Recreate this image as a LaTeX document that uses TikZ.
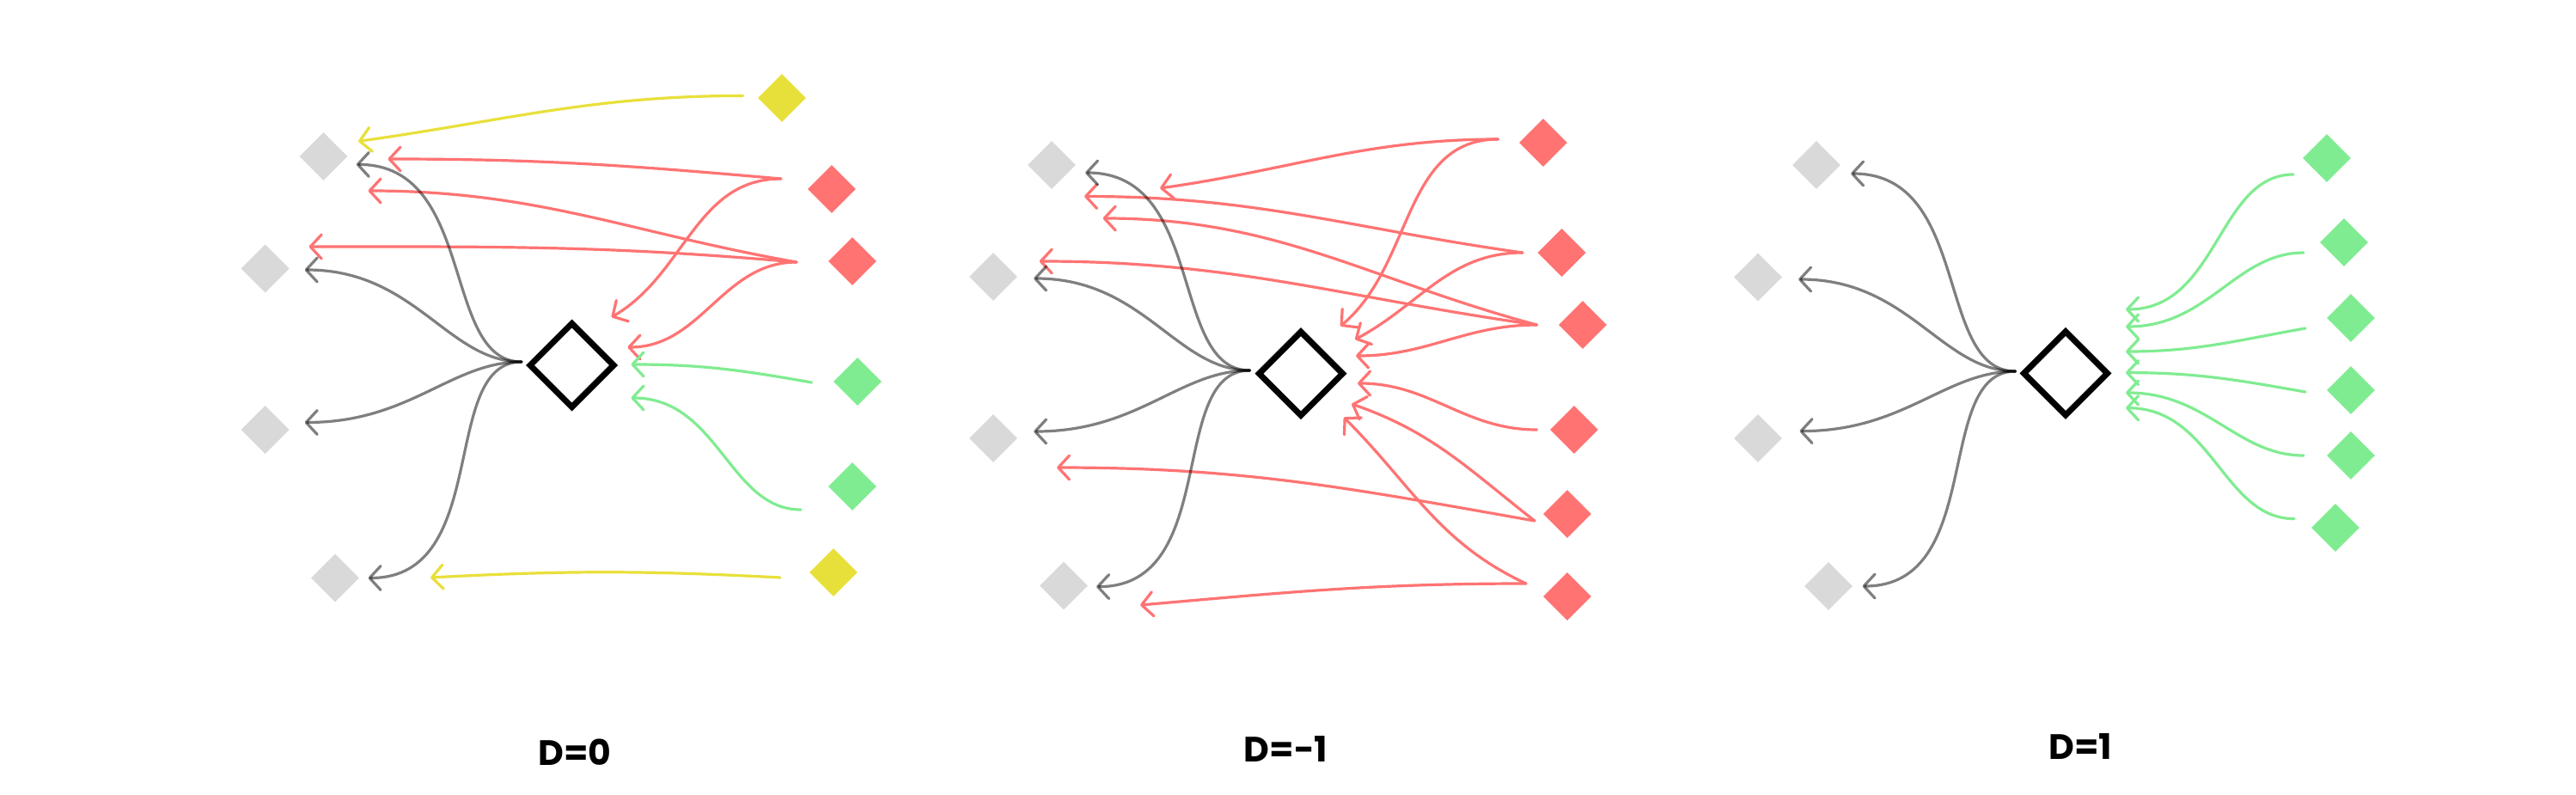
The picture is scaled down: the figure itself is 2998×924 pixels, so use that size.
\documentclass[tikz,border=0pt]{standalone}
\usepackage{fontspec}
\setmainfont{Poppins}
\usetikzlibrary{arrows.meta,shapes.geometric}
\definecolor{cred}{HTML}{FF7373}
\definecolor{cgreen}{HTML}{80EC91}
\definecolor{cyellow}{HTML}{E8E03A}
\definecolor{cgray}{HTML}{D9D9D9}
\tikzset{
  sd/.style={diamond, aspect=1, minimum width=56pt, minimum height=56pt, inner sep=0pt, draw=none},
  bd/.style={diamond, aspect=1, minimum width=100pt, minimum height=100pt, inner sep=0pt, draw=black, line width=7pt, fill=white},
  con/.style={line width=3.2pt, line cap=round, -{Straight Barb[length=13pt, width=28pt, line cap=round, line join=round]}},
  redc/.style={con, draw=cred},
  greenc/.style={con, draw=cgreen},
  yellowc/.style={con, draw=cyellow},
  grayc/.style={con, draw=black, draw opacity=0.5},
  graycurve/.style={out=180, in=0, out looseness=0.8, in looseness=1.2},
  greencurve/.style={out looseness=0.9, in looseness=1.1},
  lab/.style={font=\fontsize{41}{49}\selectfont\bfseries, anchor=base, inner sep=0pt}
}
\begin{document}
\begin{tikzpicture}[x=1pt, y=-1pt]
\useasboundingbox[fill=white] (0,0) rectangle (2998,924);

% ================= Panel 1 : D=0 =================
\node[sd, fill=cyellow] (p1y1) at (910,114) {};
\node[sd, fill=cred] (p1r1) at (968,220) {};
\node[sd, fill=cred] (p1r2) at (992,304) {};
\node[sd, fill=cgreen] (p1n1) at (998,444) {};
\node[sd, fill=cgreen] (p1n2) at (992,566) {};
\node[sd, fill=cyellow] (p1y2) at (970,666) {};
\node[sd, fill=cgray] (p1g1) at (376.5,182) {};
\node[sd, fill=cgray] (p1g2) at (308.6,312.5) {};
\node[sd, fill=cgray] (p1g3) at (308.6,500) {};
\node[sd, fill=cgray] (p1g4) at (390,672.5) {};
\node[bd] (p1b) at (665.5,425) {};

\coordinate (p1o) at (607,421);
\coordinate (p1sy1) at (864.6,111.4);
\coordinate (p1sr1) at (909,208);
\coordinate (p1sr2) at (927,305);
\coordinate (p1sn1) at (944.6,445);
\coordinate (p1sn2) at (932,593);
\coordinate (p1sy2) at (908,672);
\coordinate (p1e1) at (417,164.4);
\coordinate (p1e2) at (451.5,185);
\coordinate (p1e3) at (711.6,369);
\coordinate (p1e4) at (428.5,222);
\coordinate (p1e5) at (359.6,287);
\coordinate (p1e6) at (730.4,404);
\coordinate (p1e7) at (734.5,424);
\coordinate (p1e8) at (734.5,463);
\coordinate (p1e9) at (501,672);
\coordinate (p1t1) at (414.7,191.4);
\coordinate (p1t2) at (354.6,314);
\coordinate (p1t3) at (354.6,491.5);
\coordinate (p1t4) at (428.5,672.5);

\draw[yellowc] (p1sy1) to[out=180, in=8] (p1e1);
\draw[redc] (p1sr1) to[out=175, in=0] (p1e2);
\draw[redc] (p1sr1) to[out=180, in=30] (p1e3);
\draw[redc] (p1sr2) to[out=170, in=0] (p1e4);
\draw[redc] (p1sr2) to[out=175, in=0] (p1e5);
\draw[redc] (p1sr2) to[out=180, in=0] (p1e6);
\draw[greenc] (p1sn1) to[out=170, in=0] (p1e7);
\draw[greenc] (p1sn2) to[out=180, in=0, greencurve] (p1e8);
\draw[yellowc] (p1sy2) to[out=177, in=3] (p1e9);
\foreach \t in {p1t1,p1t2,p1t3,p1t4}
  \draw[grayc] (p1o) to[graycurve] (\t);

\node[lab] (l1) at (669,890) {D=0};

% ================= Panel 2 : D=-1 =================
\node[sd, fill=cred] (p2r1) at (1796,166) {};
\node[sd, fill=cred] (p2r2) at (1817.6,294) {};
\node[sd, fill=cred] (p2r3) at (1842,378) {};
\node[sd, fill=cred] (p2r4) at (1832,500) {};
\node[sd, fill=cred] (p2r5) at (1824,598) {};
\node[sd, fill=cred] (p2r6) at (1824,694) {};
\node[sd, fill=cgray] (p2g1) at (1224,192) {};
\node[sd, fill=cgray] (p2g2) at (1156,322) {};
\node[sd, fill=cgray] (p2g3) at (1156,510) {};
\node[sd, fill=cgray] (p2g4) at (1238,681.5) {};
\node[bd] (p2b) at (1514,434.7) {};

\coordinate (p2o) at (1454.5,431);
\coordinate (p2s1) at (1743.6,162);
\coordinate (p2s2) at (1772,294);
\coordinate (p2s3) at (1788.5,378);
\coordinate (p2s4) at (1788.5,500);
\coordinate (p2s5) at (1786,606);
\coordinate (p2s6) at (1776,679);
\coordinate (p2ea) at (1350,219);
\coordinate (p2eb) at (1560,379.5);
\coordinate (p2ec) at (1262,228.5);
\coordinate (p2ed) at (1577,395);
\coordinate (p2ee) at (1283.6,254);
\coordinate (p2ef) at (1209.7,304);
\coordinate (p2eg) at (1578,414);
\coordinate (p2eh) at (1580,446);
\coordinate (p2ei) at (1230,544);
\coordinate (p2ej) at (1573,470);
\coordinate (p2ek) at (1327,704);
\coordinate (p2el) at (1564,485.6);
\coordinate (p2t1) at (1263,201);
\coordinate (p2t2) at (1203,324);
\coordinate (p2t3) at (1203,502);
\coordinate (p2t4) at (1276,682.6);

\draw[redc] (p2s1) to[out=180, in=8] (p2ea);
\draw[redc] (p2s1) to[out=180, in=40] (p2eb);
\draw[redc] (p2s2) to[out=172, in=0] (p2ec);
\draw[redc] (p2s2) to[out=180, in=28] (p2ed);
\draw[redc] (p2s3) to[out=165, in=0] (p2ee);
\draw[redc] (p2s3) to[out=172, in=0] (p2ef);
\draw[redc] (p2s3) to[out=180, in=0] (p2eg);
\draw[redc] (p2s4) to[out=180, in=0] (p2eh);
\draw[redc] (p2s5) to[out=170, in=0] (p2ei);
\draw[redc] (p2s5) to[out=142, in=-19] (p2ej);
\draw[redc] (p2s6) to[out=180, in=5] (p2ek);
\draw[redc] (p2s6) to[out=155, in=-45] (p2el);
\foreach \t in {p2t1,p2t2,p2t3,p2t4}
  \draw[grayc] (p2o) to[graycurve] (\t);

\node[lab] (l2) at (1496.5,886) {D=-1};

% ================= Panel 3 : D=1 =================
\node[sd, fill=cgreen] (p3n1) at (2708,184) {};
\node[sd, fill=cgreen] (p3n2) at (2728,282) {};
\node[sd, fill=cgreen] (p3n3) at (2736,370) {};
\node[sd, fill=cgreen] (p3n4) at (2736,454) {};
\node[sd, fill=cgreen] (p3n5) at (2736,530) {};
\node[sd, fill=cgreen] (p3n6) at (2718,614) {};
\node[sd, fill=cgray] (p3g1) at (2114,192) {};
\node[sd, fill=cgray] (p3g2) at (2046,322.5) {};
\node[sd, fill=cgray] (p3g3) at (2046,510) {};
\node[sd, fill=cgray] (p3g4) at (2128,682) {};
\node[bd] (p3b) at (2404,434.4) {};

\coordinate (p3o) at (2345.6,432);
\coordinate (p3s1) at (2669,203);
\coordinate (p3s2) at (2681,294);
\coordinate (p3s3) at (2683,382);
\coordinate (p3s4) at (2683,456);
\coordinate (p3s5) at (2681,530);
\coordinate (p3s6) at (2670,603.6);
\coordinate (p3e1) at (2474,360);
\coordinate (p3e2) at (2474,380);
\coordinate (p3e3) at (2474,409);
\coordinate (p3e4) at (2474,433.6);
\coordinate (p3e5) at (2474,457);
\coordinate (p3e6) at (2474,474.7);
\coordinate (p3t1) at (2154,202);
\coordinate (p3t2) at (2093,325);
\coordinate (p3t3) at (2094.4,501.6);
\coordinate (p3t4) at (2167.5,682);

\draw[greenc] (p3s1) to[out=180, in=0, greencurve] (p3e1);
\draw[greenc] (p3s2) to[out=180, in=0, greencurve] (p3e2);
\draw[greenc] (p3s3) to[out=190, in=0] (p3e3);
\draw[greenc] (p3s4) to[out=170, in=0] (p3e4);
\draw[greenc] (p3s5) to[out=180, in=0, greencurve] (p3e5);
\draw[greenc] (p3s6) to[out=180, in=0, greencurve] (p3e6);
\foreach \t in {p3t1,p3t2,p3t3,p3t4}
  \draw[grayc] (p3o) to[graycurve] (\t);

\node[lab] (l3) at (2421.5,883) {D=1};
\end{tikzpicture}
\end{document}
